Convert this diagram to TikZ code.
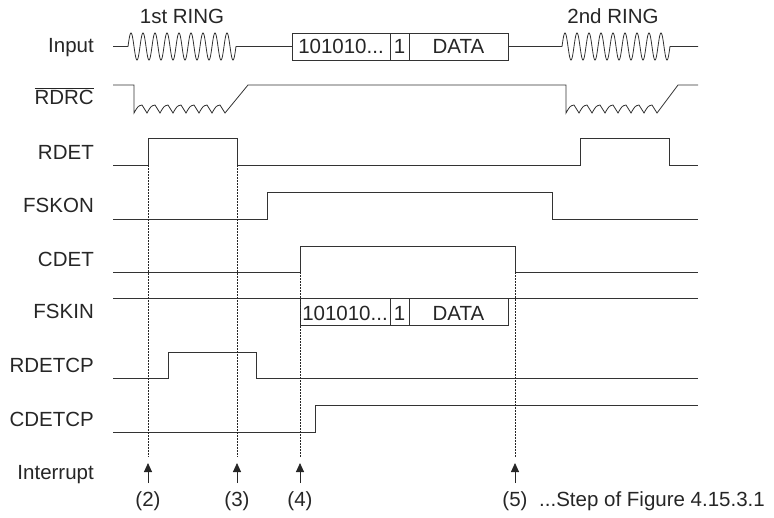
\documentclass[tikz,border=0pt]{standalone}
\usepackage{fontspec}
\setmainfont{Liberation Sans}
\usetikzlibrary{arrows.meta,calc}

\tikzset{
  sig/.style={line width=0.8pt, black!80},
  guide/.style={line width=0.7pt, black!85, dash pattern=on 1.5pt off 1.5pt},
  lbl/.style={anchor=base east, inner sep=0pt, text=black!85},
  txt/.style={anchor=base, inner sep=0pt, text=black!85},
  irq/.style={-{Triangle[length=9pt,width=8pt]}, line width=0.9pt, black!85},
}

\begin{document}
\begin{tikzpicture}[x=1pt,y=-1pt,font=\fontsize{20.5}{24}\selectfont]
\useasboundingbox (0,0) rectangle (774,517);
% Signal names
\foreach \nm/\txt/\yb in {in/Input/52, rdrc/{$\overline{\hbox{RDRC}}$}/104, rdet/RDET/159,
    fskon/FSKON/212, cdet/CDET/266, fskin/FSKIN/318, rdetcp/RDETCP/372,
    cdetcp/CDETCP/426, irq/Interrupt/479} {
  \node[lbl] (l-\nm) at (94,\yb) {\txt};
}
\node[txt] (ring1) at (182,23) {1st RING};
\node[txt] (ring2) at (613,23) {2nd RING};
% Input: ring bursts and data frame
\draw[sig] (113,46.5) -- (128,46.5)
  -- plot[domain=0:108,samples=217] ({128+\x},{46.5-13.6*sin(30*\x)})
  -- (292,46.5);
\draw[sig] (508,46.5) -- (562,46.5)
  -- plot[domain=0:108,samples=217] ({562+\x},{46.5-13.6*sin(30*\x)})
  -- (698,46.5);
\draw[sig] (292,33) rectangle (508,60) (390,33) -- (390,60) (409,33) -- (409,60);
\node[txt] (pre1) at (341,53) {101010...};
\node[txt] (one1) at (399.5,53) {1};
\node[txt] (data1) at (458.5,53) {DATA};
% RDRC with charge ripple
\draw[sig] (113,85) -- (134,85) -- (134,113)
  \foreach \i in {0,...,6} {
    .. controls ({134+13*\i+4},106) .. ({134+13*\i+8},105) -- ({134+13*\i+13},113)
  }
  -- (248,85) -- (566,85) -- (566,113)
  \foreach \i in {0,...,6} {
    .. controls ({566+13*\i+4},106) .. ({566+13*\i+8},105) -- ({566+13*\i+13},113)
  }
  -- (678,85) -- (698,85);
% RDET
\draw[sig] (113,165) -- (148,165) -- (148,138) -- (237,138) -- (237,165)
  -- (580,165) -- (580,138) -- (669,138) -- (669,165) -- (698,165);
% FSKON
\draw[sig] (113,219) -- (267,219) -- (267,192) -- (552,192) -- (552,219) -- (698,219);
% CDET
\draw[sig] (113,272) -- (300,272) -- (300,246) -- (515,246) -- (515,272) -- (698,272);
% FSKIN
\draw[sig] (113,298) -- (698,298);
\draw[sig] (300,298) rectangle (508,325) (390,298) -- (390,325) (409,298) -- (409,325);
\node[txt] (pre2) at (345,320) {101010...};
\node[txt] (one2) at (399.5,320) {1};
\node[txt] (data2) at (458.5,320) {DATA};
% RDETCP
\draw[sig] (113,378) -- (168,378) -- (168,352) -- (256,352) -- (256,378) -- (698,378);
% CDETCP
\draw[sig] (113,432) -- (315,432) -- (315,405) -- (698,405);
% Interrupt points
\foreach \n/\x/\yt in {2/148/165, 3/237/165, 4/300/272, 5/515/272} {
  \coordinate (t\n) at (\x,\yt);
  \coordinate (a\n) at (\x,463);
  \coordinate (b\n) at (\x,483);
  \draw[guide] (t\n) -- (\x,457);
  \draw[irq] (b\n) -- (a\n);
  \node[txt] (s\n) at (\x,506) {(\n)};
}
\node[anchor=base west, inner sep=0pt, text=black!85] (stepnote) at (539,506) {...Step of Figure 4.15.3.1};
\end{tikzpicture}
\end{document}
